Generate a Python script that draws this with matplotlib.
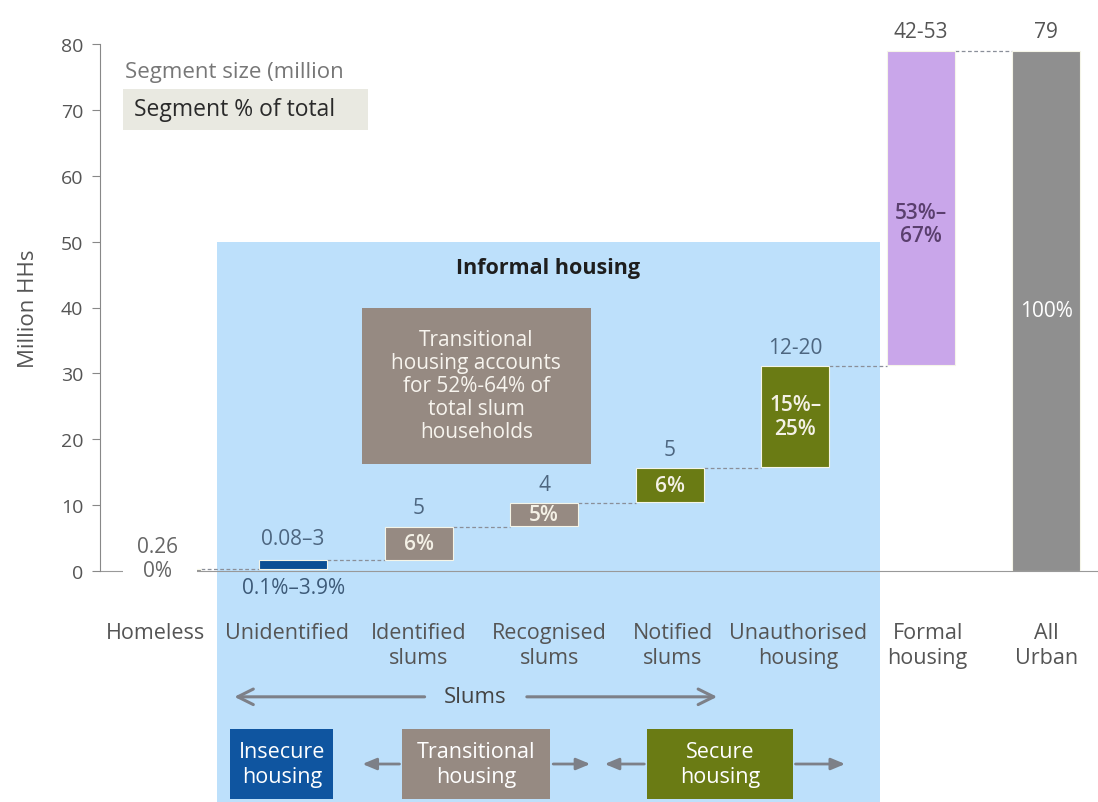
import matplotlib
matplotlib.use("Agg")
import matplotlib.pyplot as plt
from matplotlib.patches import Rectangle
from matplotlib.transforms import ScaledTranslation

plt.rcParams['font.family'] = ['Open Sans', 'DejaVu Sans']

categories = ["Homeless", "Unidentified", "Identified\nslums", "Recognised\nslums",
              "Notified\nslums", "Unauthorised\nhousing", "Formal\nhousing", "All\nUrban"]
bar_bottom = [0, 0.26, 1.7, 6.8, 10.5, 15.8, 31.3, 0]
bar_top = [0.26, 1.6, 6.7, 10.3, 15.6, 31.1, 79, 79]
value_labels = ["0.26", "0.08–3", "5", "4", "5", "12-20", "42-53", "79"]
pct_labels = ["0%", "0.1%–3.9%", "6%", "5%", "6%", "15%–\n25%", "53%–\n67%", "100%"]
bar_colors = ["#8c8c8c", "#0b4e94", "#968a82", "#968a82", "#6a7b14", "#6a7b14", "#c9a6ea", "#8f8f8f"]
pct_colors = ["#666666", "#3d5a78", "#f4f1e6", "#f4f1e6", "#f4f1e6", "#f4f1e6", "#5a3f6e", "#ffffff"]
value_colors = ["#666666", "#4d6680", "#4d6680", "#4d6680", "#4d6680", "#4d6680", "#555555", "#555555"]
y_ticks = [0, 10, 20, 30, 40, 50, 60, 70, 80]

W, H = 1098, 803
fig = plt.figure(figsize=(W / 100, H / 100), dpi=100)
ax = fig.add_axes([100 / W, 1 - 572 / H, 1 - 100 / W, (572 - 45) / H])
ax.set_xlim(-0.538, 7.412)
ax.set_ylim(0, 80)

pos = list(range(len(categories)))
bw = 0.54

# Informal housing background
ax.add_patch(Rectangle((0.394, -40), 5.677 - 0.394, 90, facecolor="#bde0fb",
                       edgecolor="none", zorder=0, clip_on=False))
ax.text(3.03, 46.1, "Informal housing", ha="center", va="center", fontsize=15.5,
        fontweight="bold", color="#1e1e1e", zorder=3)

# Bars
heights = [t - b for t, b in zip(bar_top, bar_bottom)]
ax.bar(pos, heights, bottom=bar_bottom, width=bw, color=bar_colors,
       edgecolor="#f5f5e8", linewidth=0.8, zorder=2)

# connectors
for i in range(len(pos) - 1):
    ax.plot([pos[i] + bw / 2, pos[i + 1] - bw / 2], [bar_top[i], bar_top[i]],
            linestyle=(0, (3, 2)), color="#8a8f99", lw=0.9, zorder=1.5)

# white gap in the axis around the homeless label
ax.add_patch(Rectangle((-0.355, -1.3), 0.59, 2.6, facecolor="white",
                       edgecolor="none", zorder=3.5, clip_on=False))

# value labels
for i in range(len(pos)):
    y = bar_top[i] + 2.9
    if i == 1:
        y = bar_top[i] + 3.4
    if i == 0:
        y = 3.7
    ax.text(pos[i] - (0.08 if i == 0 else 0), y, value_labels[i], ha="center", va="center",
            fontsize=15, color=value_colors[i], zorder=4, clip_on=False)

# percentage labels
for i in range(len(pos)):
    if i == 0:
        ax.text(pos[i] - 0.08, 0, pct_labels[i], ha="center", va="center", fontsize=15,
                color=pct_colors[i], zorder=4)
    elif i == 1:
        ax.text(pos[i], -2.5, pct_labels[i], ha="center", va="center", fontsize=15,
                color=pct_colors[i], zorder=4, clip_on=False)
    else:
        mid = (bar_top[i] + bar_bottom[i]) / 2
        if i == 6:
            mid = 52.7
        ax.text(pos[i], mid, pct_labels[i], ha="center", va="center", fontsize=15,
                color=pct_colors[i], fontweight="semibold" if i < 7 else "normal",
                zorder=4, linespacing=1.15)

# Transitional note box
ax.add_patch(Rectangle((1.55, 16.2), 3.37 - 1.55, 40 - 16.2, facecolor="#968a82",
                       edgecolor="none", zorder=2))
ax.text(2.46, 28.2, "Transitional\nhousing accounts\nfor 52%-64% of\ntotal slum\nhouseholds",
        ha="center", va="center", fontsize=15, color="#f7f4ee", linespacing=1.12, zorder=3)

# Legend-like annotation
ax.text(-0.34, 75.8, "Segment size (million", ha="left", va="center", fontsize=16,
        color="#777777", zorder=3)
ax.add_patch(Rectangle((-0.355, 67.0), 1.598 + 0.355, 6.1, facecolor="#e9e9e1",
                       edgecolor="none", zorder=3))
ax.text(-0.27, 70.1, "Segment % of total", ha="left", va="center", fontsize=16.5,
        color="#2a2a2a", zorder=4)

# Axes styling
for s in ["top", "right"]:
    ax.spines[s].set_visible(False)
ax.spines["left"].set_color("#888888")
ax.spines["bottom"].set_color("#999999")
ax.spines["bottom"].set_zorder(1.6)
ax.set_yticks(y_ticks)
ax.tick_params(axis="y", colors="#888888", labelcolor="#555555", labelsize=14,
               length=6, direction="out", pad=6)
ax.set_xticks(pos)
ax.set_xticklabels(categories, fontsize=15.5, color="#555555", linespacing=1.22)
ax.tick_params(axis="x", length=0, pad=37)
label_shift_px = [-12, -6, 0, 5, 3, 3, 7, 0]
for lab, dx in zip(ax.get_xticklabels(), label_shift_px):
    lab.set_transform(lab.get_transform() + ScaledTranslation(dx / 100, 0, fig.dpi_scale_trans))
ax.set_ylabel("Million HHs", fontsize=16, color="#555555", labelpad=16)

# Slums arrow
arrow_kw = dict(arrowstyle="->,head_length=0.7,head_width=0.35", color="#7d8088", lw=2.2,
                mutation_scale=16)
ax.annotate("", xy=(0.51, -19.1), xytext=(2.07, -19.1), arrowprops=arrow_kw,
            annotation_clip=False)
ax.annotate("", xy=(4.40, -19.1), xytext=(2.84, -19.1), arrowprops=arrow_kw,
            annotation_clip=False)
ax.text(2.45, -19.1, "Slums", ha="center", va="center", fontsize=16,
        color="#444444", clip_on=False)

# Bottom boxes
boxes = [(0.50, 1.32, "#0f55a0", "Insecure\nhousing"),
         (1.87, 3.05, "#968a82", "Transitional\nhousing"),
         (3.82, 4.98, "#6a7b14", "Secure\nhousing")]
for x0, x1, c, t in boxes:
    ax.add_patch(Rectangle((x0, -34.6), x1 - x0, 10.6, facecolor=c, edgecolor="none",
                           clip_on=False, zorder=2))
    ax.text((x0 + x1) / 2, -29.3, t, ha="center", va="center", fontsize=15.5,
            color="white", linespacing=1.25, clip_on=False, zorder=3)

arrow_kw2 = dict(arrowstyle="-|>,head_length=0.6,head_width=0.25", color="#7d8088", lw=2,
                 mutation_scale=14)
for x_from, x_to in [(1.87, 1.53), (3.05, 3.39), (3.82, 3.46), (4.98, 5.42)]:
    ax.annotate("", xy=(x_to, -29.3), xytext=(x_from, -29.3), arrowprops=arrow_kw2,
                annotation_clip=False)

fig.savefig("out.png", dpi=100)
